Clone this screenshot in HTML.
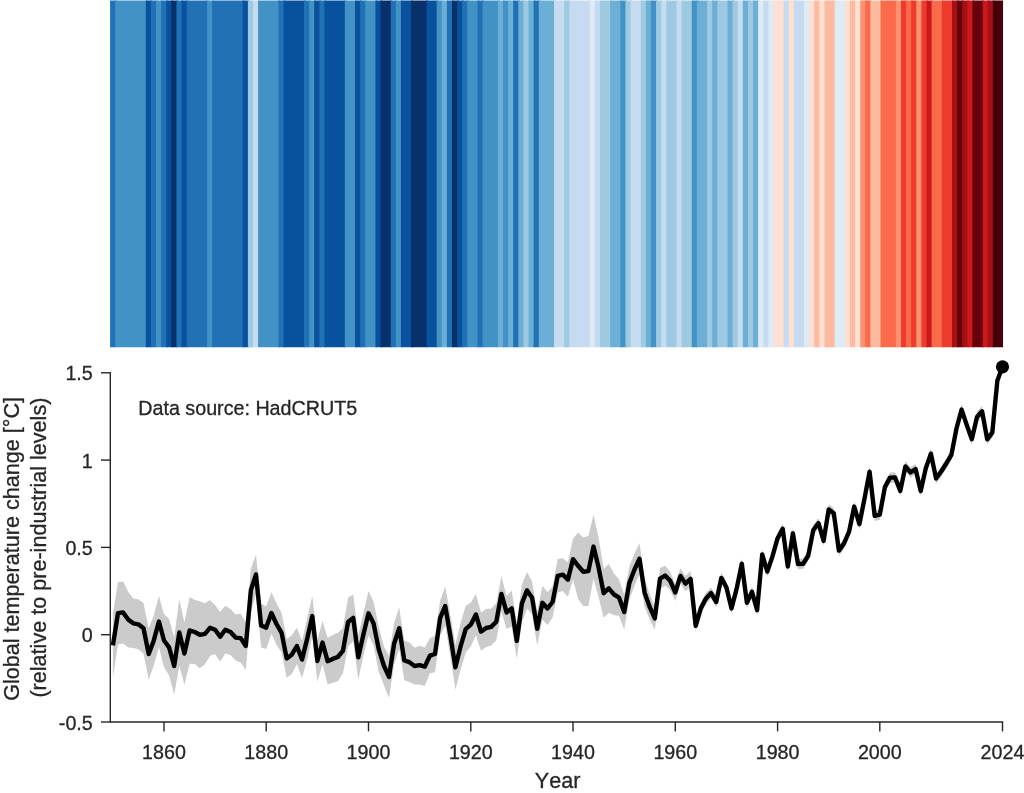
<!DOCTYPE html>
<html><head><meta charset="utf-8"><title>Global temperature change</title>
<style>
html,body{margin:0;padding:0;background:#fff;}
body{width:1024px;height:793px;overflow:hidden;font-family:"Liberation Sans",sans-serif;}
svg{display:block;}
svg text{font-family:"Liberation Sans",sans-serif;fill:#262626;font-kerning:none;stroke:#262626;stroke-width:0.3px;}
</style></head><body>
<svg width="1024" height="793" viewBox="0 0 1024 793">
<rect width="1024" height="793" fill="#ffffff"/>
<defs><clipPath id="sc"><rect x="110.1" y="0.5" width="892.95" height="346.7"/></clipPath></defs>
<g clip-path="url(#sc)">
<rect x="107.10" y="-3" width="9.60" height="355" fill="#2171b5"/>
<rect x="115.20" y="-3" width="32.12" height="355" fill="#4292c6"/>
<rect x="145.82" y="-3" width="6.60" height="355" fill="#08519c"/>
<rect x="150.92" y="-3" width="6.60" height="355" fill="#2171b5"/>
<rect x="156.02" y="-3" width="6.60" height="355" fill="#4292c6"/>
<rect x="161.13" y="-3" width="6.60" height="355" fill="#2171b5"/>
<rect x="166.23" y="-3" width="6.60" height="355" fill="#08519c"/>
<rect x="171.33" y="-3" width="6.60" height="355" fill="#08306b"/>
<rect x="176.43" y="-3" width="6.60" height="355" fill="#2171b5"/>
<rect x="181.54" y="-3" width="6.60" height="355" fill="#08519c"/>
<rect x="186.64" y="-3" width="21.91" height="355" fill="#2171b5"/>
<rect x="207.05" y="-3" width="6.60" height="355" fill="#4292c6"/>
<rect x="212.15" y="-3" width="32.12" height="355" fill="#2171b5"/>
<rect x="242.77" y="-3" width="6.60" height="355" fill="#08519c"/>
<rect x="247.87" y="-3" width="6.60" height="355" fill="#9ecae1"/>
<rect x="252.97" y="-3" width="6.60" height="355" fill="#c6dbef"/>
<rect x="258.07" y="-3" width="21.91" height="355" fill="#4292c6"/>
<rect x="278.48" y="-3" width="6.60" height="355" fill="#2171b5"/>
<rect x="283.59" y="-3" width="21.91" height="355" fill="#08519c"/>
<rect x="304.00" y="-3" width="6.60" height="355" fill="#2171b5"/>
<rect x="309.10" y="-3" width="6.60" height="355" fill="#4292c6"/>
<rect x="314.20" y="-3" width="6.60" height="355" fill="#08519c"/>
<rect x="319.31" y="-3" width="6.60" height="355" fill="#2171b5"/>
<rect x="324.41" y="-3" width="21.91" height="355" fill="#08519c"/>
<rect x="344.82" y="-3" width="11.71" height="355" fill="#4292c6"/>
<rect x="355.02" y="-3" width="6.60" height="355" fill="#08519c"/>
<rect x="360.13" y="-3" width="6.60" height="355" fill="#2171b5"/>
<rect x="365.23" y="-3" width="11.71" height="355" fill="#4292c6"/>
<rect x="375.43" y="-3" width="6.60" height="355" fill="#08519c"/>
<rect x="380.54" y="-3" width="11.71" height="355" fill="#08306b"/>
<rect x="390.74" y="-3" width="6.60" height="355" fill="#2171b5"/>
<rect x="395.84" y="-3" width="6.60" height="355" fill="#4292c6"/>
<rect x="400.95" y="-3" width="11.71" height="355" fill="#08519c"/>
<rect x="411.15" y="-3" width="16.81" height="355" fill="#08306b"/>
<rect x="426.46" y="-3" width="11.71" height="355" fill="#08519c"/>
<rect x="436.66" y="-3" width="6.60" height="355" fill="#4292c6"/>
<rect x="441.77" y="-3" width="6.60" height="355" fill="#6baed6"/>
<rect x="446.87" y="-3" width="6.60" height="355" fill="#2171b5"/>
<rect x="451.97" y="-3" width="6.60" height="355" fill="#08306b"/>
<rect x="457.07" y="-3" width="6.60" height="355" fill="#08519c"/>
<rect x="462.18" y="-3" width="6.60" height="355" fill="#2171b5"/>
<rect x="467.28" y="-3" width="11.71" height="355" fill="#4292c6"/>
<rect x="477.49" y="-3" width="6.60" height="355" fill="#2171b5"/>
<rect x="482.59" y="-3" width="16.81" height="355" fill="#4292c6"/>
<rect x="497.90" y="-3" width="6.60" height="355" fill="#6baed6"/>
<rect x="503.00" y="-3" width="6.60" height="355" fill="#4292c6"/>
<rect x="508.10" y="-3" width="6.60" height="355" fill="#6baed6"/>
<rect x="513.20" y="-3" width="6.60" height="355" fill="#2171b5"/>
<rect x="518.31" y="-3" width="6.60" height="355" fill="#6baed6"/>
<rect x="523.41" y="-3" width="6.60" height="355" fill="#9ecae1"/>
<rect x="528.51" y="-3" width="6.60" height="355" fill="#6baed6"/>
<rect x="533.61" y="-3" width="6.60" height="355" fill="#2171b5"/>
<rect x="538.72" y="-3" width="16.81" height="355" fill="#6baed6"/>
<rect x="554.02" y="-3" width="11.71" height="355" fill="#c6dbef"/>
<rect x="564.23" y="-3" width="6.60" height="355" fill="#9ecae1"/>
<rect x="569.33" y="-3" width="21.91" height="355" fill="#c6dbef"/>
<rect x="589.74" y="-3" width="6.60" height="355" fill="#deebf7"/>
<rect x="594.84" y="-3" width="6.60" height="355" fill="#c6dbef"/>
<rect x="599.95" y="-3" width="11.71" height="355" fill="#9ecae1"/>
<rect x="610.15" y="-3" width="11.71" height="355" fill="#6baed6"/>
<rect x="620.36" y="-3" width="6.60" height="355" fill="#4292c6"/>
<rect x="625.46" y="-3" width="6.60" height="355" fill="#9ecae1"/>
<rect x="630.56" y="-3" width="11.71" height="355" fill="#c6dbef"/>
<rect x="640.77" y="-3" width="6.60" height="355" fill="#9ecae1"/>
<rect x="645.87" y="-3" width="6.60" height="355" fill="#6baed6"/>
<rect x="650.97" y="-3" width="6.60" height="355" fill="#4292c6"/>
<rect x="656.08" y="-3" width="6.60" height="355" fill="#9ecae1"/>
<rect x="661.18" y="-3" width="6.60" height="355" fill="#c6dbef"/>
<rect x="666.28" y="-3" width="11.71" height="355" fill="#9ecae1"/>
<rect x="676.49" y="-3" width="6.60" height="355" fill="#c6dbef"/>
<rect x="681.59" y="-3" width="11.71" height="355" fill="#9ecae1"/>
<rect x="691.79" y="-3" width="6.60" height="355" fill="#4292c6"/>
<rect x="696.90" y="-3" width="11.71" height="355" fill="#6baed6"/>
<rect x="707.10" y="-3" width="6.60" height="355" fill="#9ecae1"/>
<rect x="712.20" y="-3" width="6.60" height="355" fill="#6baed6"/>
<rect x="717.31" y="-3" width="11.71" height="355" fill="#9ecae1"/>
<rect x="727.51" y="-3" width="6.60" height="355" fill="#6baed6"/>
<rect x="732.61" y="-3" width="6.60" height="355" fill="#9ecae1"/>
<rect x="737.72" y="-3" width="6.60" height="355" fill="#c6dbef"/>
<rect x="742.82" y="-3" width="6.60" height="355" fill="#6baed6"/>
<rect x="747.92" y="-3" width="6.60" height="355" fill="#9ecae1"/>
<rect x="753.02" y="-3" width="6.60" height="355" fill="#6baed6"/>
<rect x="758.13" y="-3" width="6.60" height="355" fill="#deebf7"/>
<rect x="763.23" y="-3" width="6.60" height="355" fill="#c6dbef"/>
<rect x="768.33" y="-3" width="6.60" height="355" fill="#deebf7"/>
<rect x="773.43" y="-3" width="11.71" height="355" fill="#fee0d2"/>
<rect x="783.64" y="-3" width="6.60" height="355" fill="#c6dbef"/>
<rect x="788.74" y="-3" width="6.60" height="355" fill="#fee0d2"/>
<rect x="793.84" y="-3" width="11.71" height="355" fill="#c6dbef"/>
<rect x="804.05" y="-3" width="6.60" height="355" fill="#deebf7"/>
<rect x="809.15" y="-3" width="6.60" height="355" fill="#fee0d2"/>
<rect x="814.25" y="-3" width="6.60" height="355" fill="#fcbba1"/>
<rect x="819.36" y="-3" width="6.60" height="355" fill="#fee0d2"/>
<rect x="824.46" y="-3" width="11.71" height="355" fill="#fcbba1"/>
<rect x="834.67" y="-3" width="11.71" height="355" fill="#deebf7"/>
<rect x="844.87" y="-3" width="6.60" height="355" fill="#fee0d2"/>
<rect x="849.97" y="-3" width="6.60" height="355" fill="#fcbba1"/>
<rect x="855.08" y="-3" width="6.60" height="355" fill="#fee0d2"/>
<rect x="860.18" y="-3" width="6.60" height="355" fill="#fc9272"/>
<rect x="865.28" y="-3" width="6.60" height="355" fill="#fb6a4a"/>
<rect x="870.38" y="-3" width="11.71" height="355" fill="#fcbba1"/>
<rect x="880.59" y="-3" width="16.81" height="355" fill="#fb6a4a"/>
<rect x="895.90" y="-3" width="6.60" height="355" fill="#fc9272"/>
<rect x="901.00" y="-3" width="6.60" height="355" fill="#ef3b2c"/>
<rect x="906.10" y="-3" width="6.60" height="355" fill="#fb6a4a"/>
<rect x="911.20" y="-3" width="6.60" height="355" fill="#ef3b2c"/>
<rect x="916.31" y="-3" width="6.60" height="355" fill="#fc9272"/>
<rect x="921.41" y="-3" width="6.60" height="355" fill="#ef3b2c"/>
<rect x="926.51" y="-3" width="6.60" height="355" fill="#cb181d"/>
<rect x="931.61" y="-3" width="11.71" height="355" fill="#fb6a4a"/>
<rect x="941.82" y="-3" width="11.71" height="355" fill="#ef3b2c"/>
<rect x="952.02" y="-3" width="6.60" height="355" fill="#a50f15"/>
<rect x="957.13" y="-3" width="6.60" height="355" fill="#67000d"/>
<rect x="962.23" y="-3" width="6.60" height="355" fill="#a50f15"/>
<rect x="967.33" y="-3" width="6.60" height="355" fill="#cb181d"/>
<rect x="972.43" y="-3" width="11.71" height="355" fill="#67000d"/>
<rect x="982.64" y="-3" width="6.60" height="355" fill="#cb181d"/>
<rect x="987.74" y="-3" width="6.60" height="355" fill="#a50f15"/>
<rect x="992.84" y="-3" width="13.21" height="355" fill="#47000a"/>
</g>
<polygon points="112.9,613.5 118.0,582.1 123.1,581.4 128.2,591.7 133.3,598.6 138.4,599.3 143.5,602.9 148.7,628.2 153.8,615.4 158.9,596.1 164.0,613.9 169.1,619.1 174.2,637.4 179.3,599.3 184.4,622.6 189.6,597.1 194.7,600.0 199.8,601.3 204.9,603.2 210.0,599.9 215.1,605.3 220.2,611.7 225.3,605.8 230.5,608.9 235.6,614.5 240.7,613.7 245.8,622.0 250.9,568.4 256.0,554.8 261.1,603.7 266.2,606.3 271.4,592.2 276.5,603.2 281.6,613.0 286.7,639.0 291.8,635.3 296.9,627.8 302.0,641.1 307.2,617.9 312.3,596.1 317.4,640.2 322.5,620.8 327.6,637.8 332.7,635.0 337.8,632.7 342.9,628.3 348.1,597.6 353.2,594.4 358.3,635.2 363.4,613.3 368.5,591.1 373.6,602.0 378.7,626.4 383.8,646.3 389.0,655.7 394.1,622.9 399.2,607.4 404.3,640.6 409.4,642.3 414.5,647.7 419.6,645.8 424.8,647.5 429.9,637.9 435.0,635.8 440.1,600.7 445.2,586.4 450.3,614.4 455.4,644.7 460.5,623.6 465.7,605.8 470.8,602.7 475.9,593.8 481.0,612.6 486.1,609.0 491.2,608.4 496.3,603.2 501.4,576.3 506.6,596.0 511.7,590.4 516.8,622.9 521.9,584.2 527.0,572.1 532.1,581.4 537.2,611.7 542.4,585.9 547.5,591.9 552.6,586.5 557.7,559.0 562.8,558.2 567.9,562.5 573.0,538.8 578.1,532.6 583.3,537.5 588.4,536.1 593.5,514.7 598.6,537.9 603.7,568.8 608.8,563.9 613.9,573.3 619.0,579.4 624.2,594.6 629.3,566.5 634.4,553.8 639.5,543.1 644.6,578.4 649.7,594.1 654.8,607.0 660.0,568.1 665.1,565.8 670.2,571.8 675.3,584.2 680.4,568.4 685.5,575.9 690.6,571.1 695.7,619.8 700.9,602.1 706.0,592.7 711.1,587.5 716.2,596.5 721.3,572.6 726.4,582.1 731.5,603.2 736.6,583.6 741.8,558.5 746.9,597.4 752.0,586.6 757.1,604.9 762.2,549.2 767.3,566.3 772.4,551.3 777.6,533.0 782.7,523.6 787.8,561.3 792.9,528.1 798.0,558.8 803.1,558.5 808.2,550.5 813.3,524.8 818.5,518.0 823.6,535.6 828.7,504.2 833.8,508.0 838.9,545.4 844.0,538.2 849.1,526.4 854.2,501.4 859.4,518.9 864.5,493.4 869.6,466.5 874.7,510.6 879.8,509.4 884.9,481.8 890.0,472.4 895.1,472.2 900.3,485.7 905.4,461.2 910.5,467.2 915.6,463.9 920.7,485.9 925.8,463.0 930.9,448.5 936.1,473.3 941.2,466.3 946.3,458.3 951.4,449.7 956.5,423.2 961.6,404.3 966.7,419.7 971.8,434.0 977.0,411.6 982.1,406.1 987.2,434.2 992.3,427.4 997.4,375.2 1002.5,361.5 1002.5,372.0 997.4,385.6 992.3,437.8 987.2,444.6 982.1,416.5 977.0,422.1 971.8,444.5 966.7,430.2 961.6,414.8 956.5,433.6 951.4,460.2 946.3,468.7 941.2,476.8 936.1,483.8 930.9,459.0 925.8,473.5 920.7,496.3 915.6,474.3 910.5,477.6 905.4,471.7 900.3,496.2 895.1,482.7 890.0,482.9 884.9,492.3 879.8,519.9 874.7,521.1 869.6,476.9 864.5,503.8 859.4,529.3 854.2,511.9 849.1,536.8 844.0,548.7 838.9,555.9 833.8,518.5 828.7,514.7 823.6,546.1 818.5,528.5 813.3,535.3 808.2,560.9 803.1,569.0 798.0,569.3 792.9,538.6 787.8,571.8 782.7,534.0 777.6,543.5 772.4,561.8 767.3,576.8 762.2,559.7 757.1,615.4 752.0,597.1 746.9,607.9 741.8,569.0 736.6,594.1 731.5,613.7 726.4,592.5 721.3,583.1 716.2,607.4 711.1,598.6 706.0,604.2 700.9,614.0 695.7,632.0 690.6,586.8 685.5,591.3 680.4,583.5 675.3,600.9 670.2,589.9 665.1,585.4 660.0,589.0 654.8,629.7 649.7,619.6 644.6,607.0 639.5,574.6 634.4,585.9 629.3,599.7 624.2,629.5 619.0,615.8 613.9,615.2 608.8,612.8 603.7,617.7 598.6,597.2 593.5,578.6 588.4,606.0 583.3,606.0 578.1,599.0 573.0,579.6 567.9,596.7 562.8,590.9 557.7,592.5 552.6,617.4 547.5,624.9 542.4,619.8 537.2,645.6 532.1,614.2 527.0,608.8 521.9,622.6 516.8,658.9 511.7,626.5 506.6,628.9 501.4,611.6 496.3,640.2 491.2,645.4 486.1,646.9 481.0,650.7 475.9,635.3 470.8,646.6 465.7,652.6 460.5,669.7 455.4,689.8 450.3,656.3 445.2,625.5 440.1,635.7 435.0,672.2 429.9,673.2 424.8,685.9 419.6,684.5 414.5,684.4 409.4,682.1 404.3,680.3 399.2,648.9 394.1,664.5 389.0,698.1 383.8,684.7 378.7,671.8 373.6,645.3 368.5,635.5 363.4,655.6 358.3,679.4 353.2,641.3 348.1,646.5 342.9,673.4 337.8,681.2 332.7,682.7 327.6,684.5 322.5,664.1 317.4,681.8 312.3,636.1 307.2,659.4 302.0,678.1 296.9,664.1 291.8,674.1 286.7,677.7 281.6,652.8 276.5,644.7 271.4,633.7 266.2,648.9 261.1,647.4 256.0,593.9 250.9,611.8 245.8,669.9 240.7,662.5 235.6,660.6 230.5,655.0 225.3,653.6 220.2,661.7 215.1,654.2 210.0,655.7 204.9,664.6 199.8,668.3 194.7,663.9 189.6,663.8 184.4,684.7 179.3,665.7 174.2,694.7 169.1,675.6 164.0,667.2 158.9,646.9 153.8,665.3 148.7,679.8 143.5,653.7 138.4,649.3 133.3,647.9 128.2,647.5 123.1,643.4 118.0,644.2 112.9,677.4" fill="#cbcbcb"/>
<polyline points="112.9,645.4 118.0,613.1 123.1,612.4 128.2,619.6 133.3,623.3 138.4,624.3 143.5,628.3 148.7,654.0 153.8,640.4 158.9,621.5 164.0,640.5 169.1,647.4 174.2,666.0 179.3,632.5 184.4,653.6 189.6,630.4 194.7,632.0 199.8,634.8 204.9,633.9 210.0,627.8 215.1,629.7 220.2,636.7 225.3,629.7 230.5,632.0 235.6,637.6 240.7,638.1 245.8,646.0 250.9,590.1 256.0,574.4 261.1,625.5 266.2,627.6 271.4,613.0 276.5,624.0 281.6,632.9 286.7,658.4 291.8,654.7 296.9,646.0 302.0,659.6 307.2,638.6 312.3,616.1 317.4,661.0 322.5,642.5 327.6,661.2 332.7,658.9 337.8,657.0 342.9,650.9 348.1,622.0 353.2,617.9 358.3,657.3 363.4,634.4 368.5,613.3 373.6,623.6 378.7,649.1 383.8,665.5 389.0,676.9 394.1,643.7 399.2,628.2 404.3,660.5 409.4,662.2 414.5,666.0 419.6,665.2 424.8,666.7 429.9,655.6 435.0,654.0 440.1,618.2 445.2,606.0 450.3,635.3 455.4,667.3 460.5,646.7 465.7,629.2 470.8,624.7 475.9,614.5 481.0,631.6 486.1,628.0 491.2,626.9 496.3,621.7 501.4,593.9 506.6,612.4 511.7,608.4 516.8,640.9 521.9,603.4 527.0,590.4 532.1,597.8 537.2,628.7 542.4,602.8 547.5,608.4 552.6,602.0 557.7,575.8 562.8,574.6 567.9,579.6 573.0,559.2 578.1,565.8 583.3,571.8 588.4,571.1 593.5,546.6 598.6,567.6 603.7,593.2 608.8,588.3 613.9,594.3 619.0,597.6 624.2,612.1 629.3,583.1 634.4,569.8 639.5,558.8 644.6,592.7 649.7,606.9 654.8,618.4 660.0,578.6 665.1,575.6 670.2,580.8 675.3,592.5 680.4,575.9 685.5,583.6 690.6,578.9 695.7,625.9 700.9,608.1 706.0,598.5 711.1,593.1 716.2,602.0 721.3,577.9 726.4,587.3 731.5,608.4 736.6,588.9 741.8,563.7 746.9,602.7 752.0,591.8 757.1,610.2 762.2,554.5 767.3,571.6 772.4,556.6 777.6,538.2 782.7,528.8 787.8,566.5 792.9,533.3 798.0,564.1 803.1,563.7 808.2,555.7 813.3,530.0 818.5,523.2 823.6,540.9 828.7,509.4 833.8,513.3 838.9,550.6 844.0,543.5 849.1,531.6 854.2,506.6 859.4,524.1 864.5,498.6 869.6,471.7 874.7,515.9 879.8,514.7 884.9,487.1 890.0,477.6 895.1,477.5 900.3,490.9 905.4,466.5 910.5,472.4 915.6,469.1 920.7,491.1 925.8,468.2 930.9,453.7 936.1,478.5 941.2,471.5 946.3,463.5 951.4,454.9 956.5,428.4 961.6,409.6 966.7,424.9 971.8,439.2 977.0,416.9 982.1,411.3 987.2,439.4 992.3,432.6 997.4,380.4 1002.5,366.8" fill="none" stroke="#000" stroke-width="4.4" stroke-linejoin="round" stroke-linecap="butt"/>
<circle cx="1002.5" cy="366.8" r="6.6" fill="#000"/>
<path d="M110.3 372.1 V722 H1003.2" fill="none" stroke="#262626" stroke-width="1.4"/>
<g style="opacity:0.999">
<line x1="164.0" y1="722" x2="164.0" y2="731.4" stroke="#262626" stroke-width="1.4"/>
<text x="164.0" y="758.6" text-anchor="middle" font-size="19.7">1860</text>
<line x1="266.2" y1="722" x2="266.2" y2="731.4" stroke="#262626" stroke-width="1.4"/>
<text x="266.2" y="758.6" text-anchor="middle" font-size="19.7">1880</text>
<line x1="368.5" y1="722" x2="368.5" y2="731.4" stroke="#262626" stroke-width="1.4"/>
<text x="368.5" y="758.6" text-anchor="middle" font-size="19.7">1900</text>
<line x1="470.8" y1="722" x2="470.8" y2="731.4" stroke="#262626" stroke-width="1.4"/>
<text x="470.8" y="758.6" text-anchor="middle" font-size="19.7">1920</text>
<line x1="573.0" y1="722" x2="573.0" y2="731.4" stroke="#262626" stroke-width="1.4"/>
<text x="573.0" y="758.6" text-anchor="middle" font-size="19.7">1940</text>
<line x1="675.3" y1="722" x2="675.3" y2="731.4" stroke="#262626" stroke-width="1.4"/>
<text x="675.3" y="758.6" text-anchor="middle" font-size="19.7">1960</text>
<line x1="777.6" y1="722" x2="777.6" y2="731.4" stroke="#262626" stroke-width="1.4"/>
<text x="777.6" y="758.6" text-anchor="middle" font-size="19.7">1980</text>
<line x1="879.8" y1="722" x2="879.8" y2="731.4" stroke="#262626" stroke-width="1.4"/>
<text x="879.8" y="758.6" text-anchor="middle" font-size="19.7">2000</text>
<line x1="1002.5" y1="722" x2="1002.5" y2="731.4" stroke="#262626" stroke-width="1.4"/>
<text x="1002.5" y="758.6" text-anchor="middle" font-size="19.7">2024</text>
<line x1="101" y1="372.8" x2="110.3" y2="372.8" stroke="#262626" stroke-width="1.4"/>
<text x="92.8" y="380.3" text-anchor="end" font-size="19.7">1.5</text>
<line x1="101" y1="460.1" x2="110.3" y2="460.1" stroke="#262626" stroke-width="1.4"/>
<text x="92.8" y="467.6" text-anchor="end" font-size="19.7">1</text>
<line x1="101" y1="547.4" x2="110.3" y2="547.4" stroke="#262626" stroke-width="1.4"/>
<text x="92.8" y="554.9" text-anchor="end" font-size="19.7">0.5</text>
<line x1="101" y1="634.7" x2="110.3" y2="634.7" stroke="#262626" stroke-width="1.4"/>
<text x="92.8" y="642.2" text-anchor="end" font-size="19.7">0</text>
<line x1="101" y1="722.0" x2="110.3" y2="722.0" stroke="#262626" stroke-width="1.4"/>
<text x="92.8" y="729.5" text-anchor="end" font-size="19.7">-0.5</text>
<text x="138.3" y="414.8" font-size="19.7">Data source: HadCRUT5</text>
<text x="557.6" y="787.5" text-anchor="middle" font-size="21.6">Year</text>
<text transform="translate(18.6 548.9) rotate(-90)" text-anchor="middle" font-size="21.6">Global temperature change [°C]</text>
<text transform="translate(46.2 547.6) rotate(-90)" text-anchor="middle" font-size="21.6">(relative to pre-industrial levels)</text>
</g>
</svg>
</body></html>
